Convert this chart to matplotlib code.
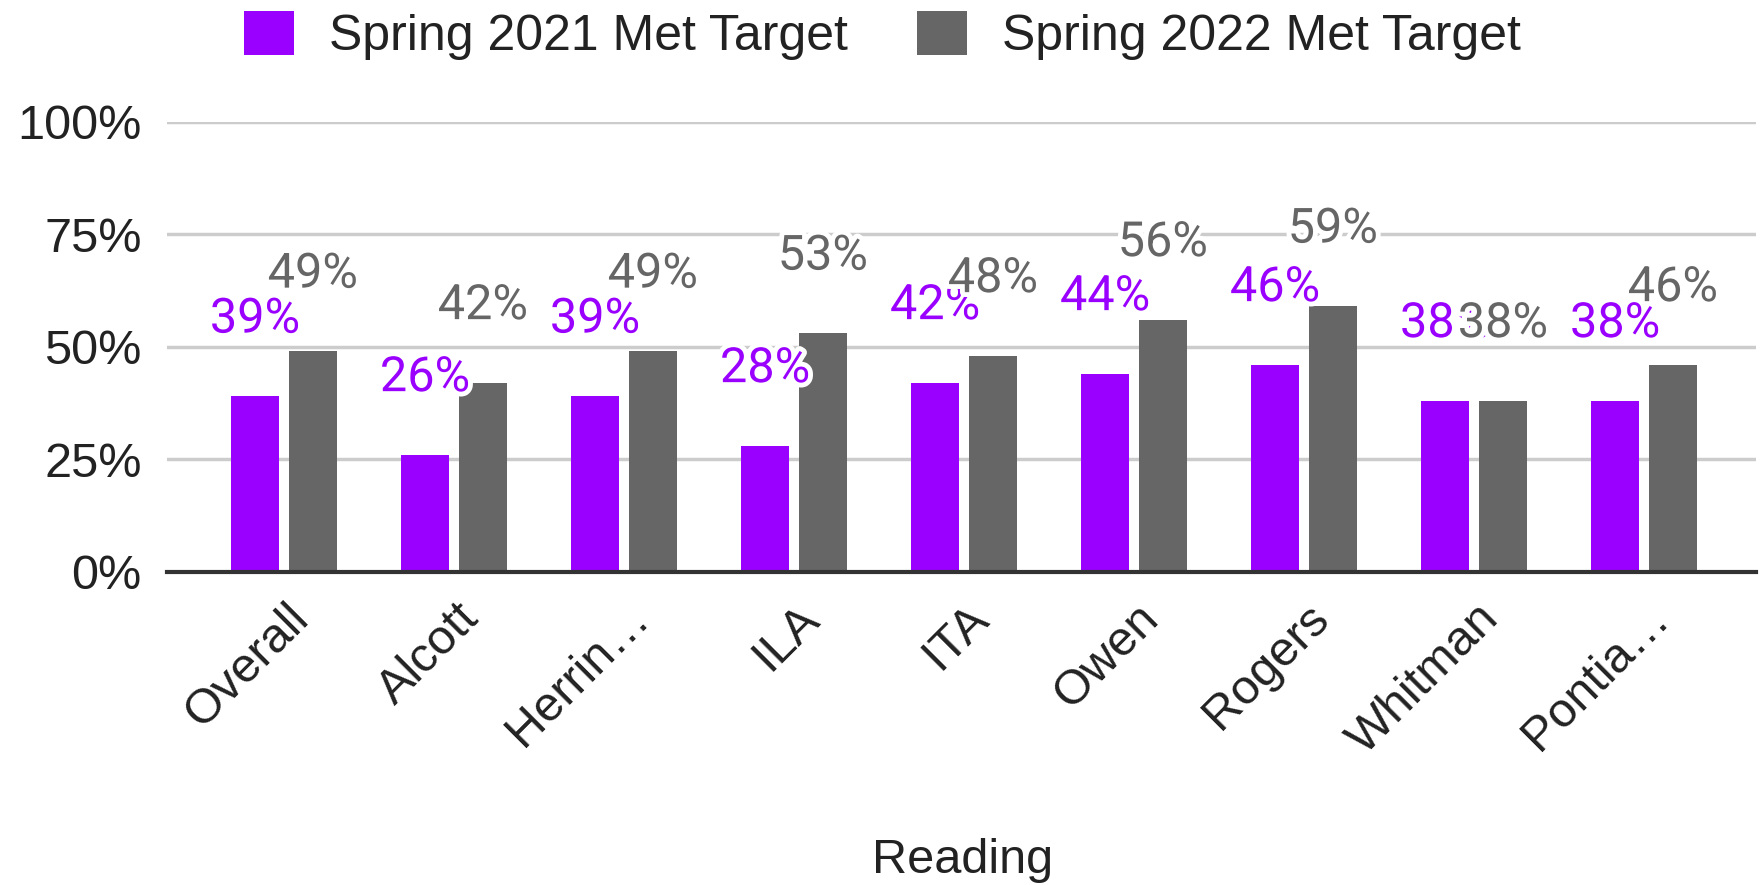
import numpy as np
import matplotlib.pyplot as plt
import matplotlib.patheffects as pe
from matplotlib.transforms import ScaledTranslation

# data
schools = ['Overall', 'Alcott', 'Herrin…', 'ILA', 'ITA', 'Owen', 'Rogers', 'Whitman', 'Pontia…']
spring_2021 = [39, 26, 39, 28, 42, 44, 46, 38, 38]
spring_2022 = [49, 42, 49, 53, 48, 56, 59, 38, 46]
series_names = ['Spring 2021 Met Target', 'Spring 2022 Met Target']
yticks = [0, 25, 50, 75, 100]

purple = '#9900ff'
gray = '#666666'
txt = '#222222'

plt.rcParams['font.family'] = ['Liberation Sans', 'DejaVu Sans']

fig = plt.figure(figsize=(17.65, 8.85), dpi=100)
ax = fig.add_axes([0.0944, 0.354, 0.9006, 0.5086])

x = np.arange(len(schools))
w = 0.28
off = 0.17
b1 = ax.bar(x - off, spring_2021, w, color=purple, zorder=2, label=series_names[0])
b2 = ax.bar(x + off, spring_2022, w, color=gray, zorder=2, label=series_names[1])

# value labels with a white halo, like the sheets chart
halo = [pe.withStroke(linewidth=7, foreground='white')]
for xi, v in zip(x, spring_2021):
    ax.text(xi - off, v + 17, f'{v}%', ha='center', va='center', fontsize=35,
            color=purple, family='Roboto', path_effects=halo, zorder=4)
for xi, v in zip(x, spring_2022):
    ax.text(xi + off, v + 17, f'{v}%', ha='center', va='center', fontsize=35,
            color=gray, family='Roboto', path_effects=halo, zorder=5)

ax.set_ylim(0, 100)
ax.set_xlim(-0.69, len(schools) - 1 + 0.66)
ax.set_yticks(yticks)
ax.set_yticklabels([f'{t}%' for t in yticks], fontsize=35, color=txt)
ax.yaxis.grid(True, color='#cccccc', linewidth=2.5, zorder=0)
ax.set_axisbelow(True)
for s in ['top', 'right', 'left']:
    ax.spines[s].set_visible(False)
ax.spines['bottom'].set_color('#333333')
ax.spines['bottom'].set_linewidth(3)
ax.spines['bottom'].set_zorder(3)
ax.tick_params(axis='y', length=0, pad=18)
ax.tick_params(axis='x', length=0, pad=17)

ax.set_xticks(x)
ax.set_xticklabels(schools, fontsize=35, color=txt, rotation=45, ha='right',
                   rotation_mode='anchor')
shift = ScaledTranslation(0.02, 0, fig.dpi_scale_trans)
for lbl in ax.get_xticklabels():
    lbl.set_transform(lbl.get_transform() + shift)

fig.text(0.5456, 0.028, 'Reading', ha='center', va='center', fontsize=35, color=txt)

fig.legend(handles=[b1, b2], loc='center', bbox_to_anchor=(0.5, 0.96), ncol=2,
           frameon=False, fontsize=36, handlelength=1.0, handleheight=1.0,
           handletextpad=0.7, columnspacing=1.4, labelcolor=txt)

fig.savefig('out.png', dpi=100)
